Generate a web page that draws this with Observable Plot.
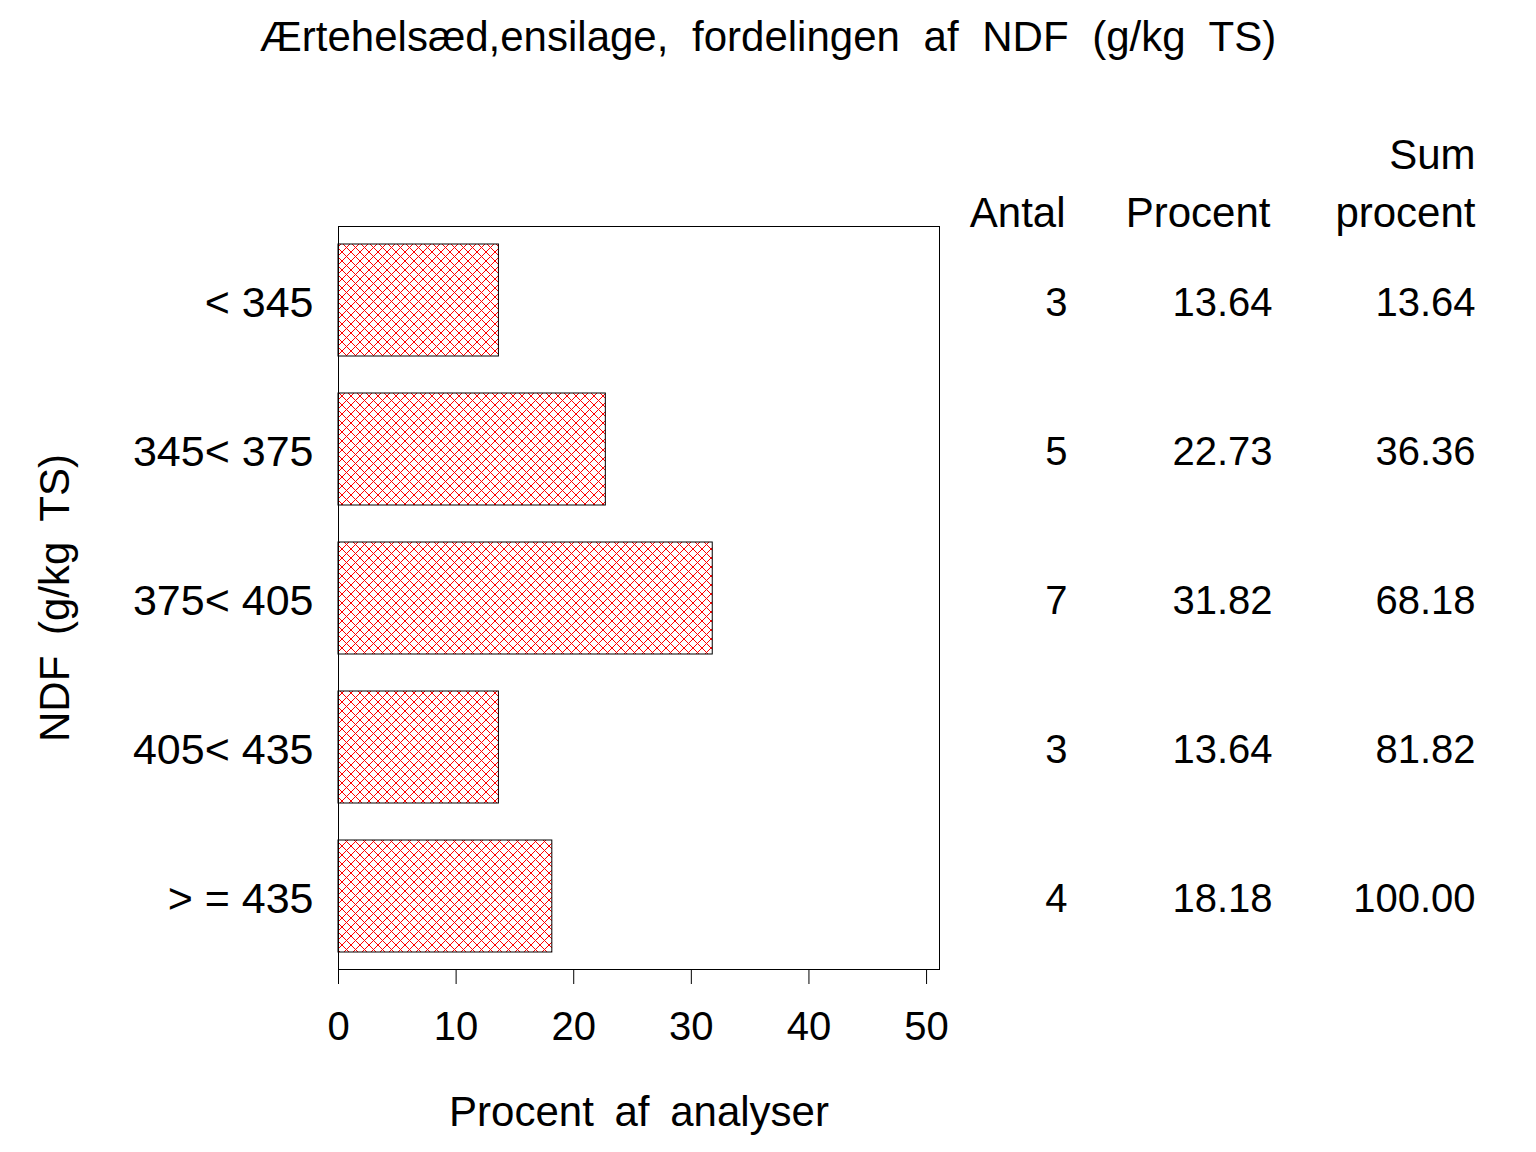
<!DOCTYPE html>
<html>
<head>
<meta charset="utf-8">
<script src="https://cdn.jsdelivr.net/npm/d3@7"></script>
<script src="https://cdn.jsdelivr.net/npm/@observablehq/plot@0.6"></script>
<style>
  html, body { margin: 0; padding: 0; background: white; }
</style>
</head>
<body>
<div id="chart"></div>
<script>
const categories = ["< 345", "345< 375", "375< 405", "405< 435", "> = 435"];
const antal = [3, 5, 7, 3, 4];
const procent = [13.64, 22.73, 31.82, 13.64, 18.18];
const sumProcent = [13.64, 36.36, 68.18, 81.82, 100.00];
const xTicks = [0, 10, 20, 30, 40, 50];

const titleText = "Ærtehelsæd,ensilage, fordelingen af NDF (g/kg TS)";
const xLabel = "Procent af analyser";
const yLabel = "NDF (g/kg TS)";
const headerAntal = "Antal";
const headerProcent = "Procent";
const headerSum = "Sum\nprocent";

const rows = categories.map((c, i) => ({
  cat: c, antal: antal[i], procent: procent[i], sum: sumProcent[i]
}));

const font = "Liberation Sans, Arial, Helvetica, sans-serif";
const fs = 40;
const colDx = [128, 333, 536];

const plot = Plot.plot({
  width: 1536,
  height: 1152,
  marginLeft: 338,
  marginRight: 597,
  marginTop: 226,
  marginBottom: 183,
  style: {fontFamily: font, fontSize: fs + "px", color: "black", background: "white"},
  x: {domain: [0, 51.1], axis: null},
  y: {domain: categories, paddingInner: 0.25, paddingOuter: 0.115, axis: null},
  marks: [
    Plot.barX(rows, {x: "procent", y: "cat", fill: "url(#xhatch)", stroke: "black", strokeWidth: 1}),
    Plot.frame({stroke: "black", strokeWidth: 1}),
    Plot.axisX({ticks: xTicks, tickSize: 15, tickPadding: 27, fontSize: fs, label: null, anchor: "bottom"}),
    Plot.axisY({tickSize: 0, tickPadding: 25, fontSize: 43, label: null, anchor: "left", dy: 3}),
    // table columns
    Plot.text(rows, {y: "cat", text: d => String(d.antal), frameAnchor: "right", textAnchor: "end", dx: colDx[0], dy: 3, fontSize: fs}),
    Plot.text(rows, {y: "cat", text: d => d.procent.toFixed(2), frameAnchor: "right", textAnchor: "end", dx: colDx[1], dy: 3, fontSize: fs}),
    Plot.text(rows, {y: "cat", text: d => d.sum.toFixed(2), frameAnchor: "right", textAnchor: "end", dx: colDx[2], dy: 3, fontSize: fs}),
    // headers
    Plot.text([headerAntal], {frameAnchor: "top-right", textAnchor: "end", lineAnchor: "bottom", dx: colDx[0] - 2, fontSize: 42}),
    Plot.text([headerProcent], {frameAnchor: "top-right", textAnchor: "end", lineAnchor: "bottom", dx: colDx[1] - 2, fontSize: 42}),
    Plot.text([headerSum], {frameAnchor: "top-right", textAnchor: "end", lineAnchor: "bottom", dx: colDx[2], fontSize: 42, lineHeight: 1.36}),
    // title
    Plot.text([titleText], {frameAnchor: "top", textAnchor: "middle", dx: 129, dy: -176, lineAnchor: "bottom", fontSize: 42}),
    // axis labels
    Plot.text([xLabel], {frameAnchor: "bottom", textAnchor: "middle", dy: 156, lineAnchor: "bottom", fontSize: 42}),
    Plot.text([yLabel], {frameAnchor: "left", textAnchor: "middle", dx: -283, rotate: -90, lineAnchor: "middle", fontSize: 42})
  ]
});

document.getElementById("chart").appendChild(plot);

const svg = d3.select(plot);
// wider word spacing like the original renderer
svg.selectAll("text").filter(function() {
  const t = this.textContent;
  return t === titleText || t === xLabel || t === yLabel;
}).style("word-spacing", function() {
  return this.textContent === titleText ? "12px" : "9px";
});

const defs = svg.insert("defs", ":first-child");
const pat = defs.append("pattern")
  .attr("id", "xhatch")
  .attr("patternUnits", "userSpaceOnUse")
  .attr("width", 9).attr("height", 9);
pat.append("path").attr("d", "M0,0L9,9M0,9L9,0M-1,1L1,-1M8,10L10,8M-1,8L1,10M8,-1L10,1")
  .attr("stroke", "red").attr("stroke-width", 1).attr("fill", "none");
</script>
</body>
</html>
